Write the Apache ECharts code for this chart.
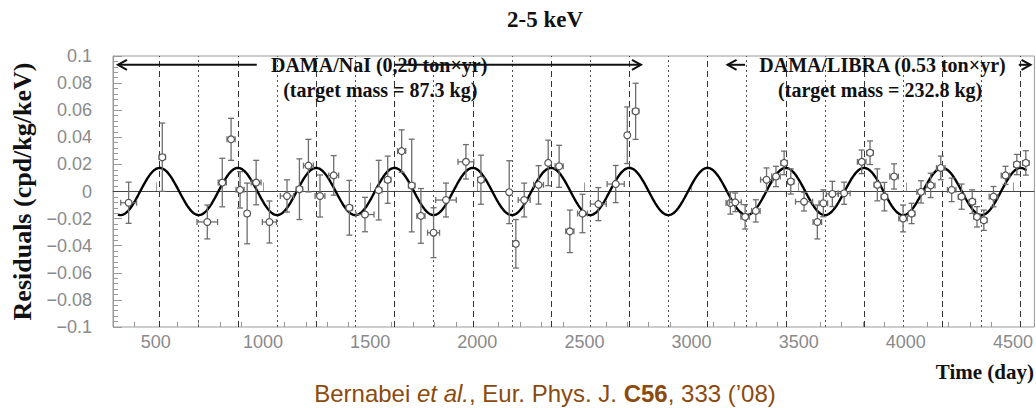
<!DOCTYPE html>
<html><head><meta charset="utf-8">
<script src="https://cdn.jsdelivr.net/npm/echarts@6/dist/echarts.min.js"></script>
<style>html,body{margin:0;padding:0;background:#fff}#c{width:1036px;height:408px}</style>
</head><body><div id="c"></div>
<script>
// ---- data ----
const naiDay = [373,530,740,810,851,893,926,968,1030,1112,1170,1212,1266,1330,1403,1476,1540,1582,1647,1694,1737,1796,1854,1947,2017,2149,2180,2219,2286,2331,2382,2432,2491,2565,2646,2700,2739];
const naiRes = [-0.0083,0.0253,-0.0225,0.0066,0.0385,0.0012,-0.0162,0.0066,-0.0225,-0.0033,0.0017,0.0191,-0.0033,0.0119,-0.012,-0.017,0.001,0.0087,0.0298,0.0044,-0.018,-0.0304,-0.0063,0.0219,0.0087,-0.0005,-0.0386,-0.0063,0.0049,0.0211,0.0186,-0.0294,-0.0162,-0.0093,0.0055,0.0415,0.0592];
const naiErr = [0.0152,0.0252,0.0125,0.0179,0.0155,0.0134,0.0224,0.0164,0.0155,0.0119,0.0224,0.0194,0.0155,0.0146,0.0202,0.0127,0.022,0.0174,0.0157,0.0342,0.0202,0.0184,0.0125,0.0127,0.0181,0.0232,0.0179,0.0125,0.0142,0.0168,0.0155,0.0157,0.0142,0.0122,0.0137,0.0209,0.0207];
const naiDayErr = [37,15,48,19,19,19,10,23,33,31,15,23,23,23,15,42,15,15,19,15,19,28,48,37,15,10,10,28,23,10,19,19,23,37,40,10,15];

const libraDay = [3181,3204,3250,3300,3350,3394,3432,3463,3525,3587,3615,3657,3712,3794,3833,3867,3900,3945,3987,4027,4071,4116,4163,4214,4260,4310,4332,4364,4409,4465,4518,4560];
const libraRes = [-0.0085,-0.008,-0.0187,-0.0143,0.0087,0.0111,0.0211,0.0074,-0.0075,-0.0225,-0.0087,-0.0018,-0.0013,0.0219,0.0286,0.0049,-0.0038,0.0111,-0.0199,-0.0162,-0.0003,0.0045,0.0174,0.0012,-0.0038,-0.0075,-0.0187,-0.0212,-0.0038,0.0119,0.0199,0.0211];
const libraErr = [0.0082,0.0069,0.009,0.0082,0.0087,0.0075,0.0087,0.0093,0.0069,0.0125,0.0099,0.0093,0.0082,0.0087,0.0087,0.0118,0.0105,0.0093,0.0099,0.0075,0.0082,0.009,0.0087,0.0087,0.0093,0.0087,0.0075,0.0075,0.0075,0.0067,0.0075,0.009];
const libraDayErr = [20,28,20,20,28,20,15,15,40,20,20,28,28,20,15,15,15,20,20,15,20,20,20,20,15,15,15,15,20,20,15,15];

// cosine fit A cos(2pi (t - t0)/T) as shown on the figure
const fitAmplitude = 0.0174;
const fitPeriod = 365.25;
const fitPhase = 152.5;
const fitRange = [323, 4566];

// June 2nd (maxima, dashed) and Dec 2nd (minima, dotted) reference lines
const peakDays = [518,883,1248,1614,1979,2344,2709,3075,3440,3805,4170,4536];
const troughDays = [700,1066,1431,1796,2161,2527,2892,3257,3622,3988,4353];

// axis ticks
const xMajorTicks = [500,1000,1500,2000,2500,3000,3500,4000,4500];
const xMinorTicks = [300,400,600,700,800,900,1100,1200,1300,1400,1600,1700,1800,1900,2100,2200,2300,2400,2600,2700,2800,2900,3100,3200,3300,3400,3600,3700,3800,3900,4100,4200,4300,4400,4600];

// ---- chart ----
const fitData = [];
for (let t = fitRange[0]; t <= fitRange[1]; t += 4) {
  fitData.push([t, fitAmplitude * Math.cos(2 * Math.PI * (t - fitPhase) / fitPeriod)]);
}

const errData = naiDay.map((d, i) => [d, naiRes[i], naiErr[i], naiDayErr[i]])
  .concat(libraDay.map((d, i) => [d, libraRes[i], libraErr[i], libraDayErr[i]]));

function errItem(params, api) {
  const x = api.value(0), y = api.value(1), ey = api.value(2), ex = api.value(3);
  const c = api.coord([x, y]);
  const top = api.coord([x, y + ey])[1], bot = api.coord([x, y - ey])[1];
  const l = api.coord([x - ex, y])[0], r = api.coord([x + ex, y])[0];
  const cap = 3, rad = 3.4;
  const st = { stroke: '#6e6e6e', lineWidth: 1.3, fill: null };
  const kids = [
    { type: 'line', shape: { x1: c[0], y1: top, x2: c[0], y2: bot }, style: st },
    { type: 'line', shape: { x1: c[0] - cap, y1: top, x2: c[0] + cap, y2: top }, style: st },
    { type: 'line', shape: { x1: c[0] - cap, y1: bot, x2: c[0] + cap, y2: bot }, style: st },
    { type: 'line', shape: { x1: l, y1: c[1], x2: r, y2: c[1] }, style: st },
    { type: 'line', shape: { x1: l, y1: c[1] - cap, x2: l, y2: c[1] + cap }, style: st },
    { type: 'line', shape: { x1: r, y1: c[1] - cap, x2: r, y2: c[1] + cap }, style: st },
    { type: 'circle', shape: { cx: c[0], cy: c[1], r: rad }, style: { fill: '#fff', stroke: '#555', lineWidth: 1.2 } }
  ];
  return { type: 'group', children: kids };
}

const annFont = 'bold 20px "Liberation Serif", "DejaVu Serif", serif';
function annItem(params, api) {
  const yA = 0.0935;
  const arrows = [[323, 971, 'l'], [1613, 2764, 'r'], [3168, 3250, 'l'], [4527, 4582, 'r']];
  const kids = [];
  const st = { stroke: '#111', lineWidth: 2, fill: null };
  arrows.forEach(a => {
    const p1 = api.coord([a[0], yA]), p2 = api.coord([a[1], yA]);
    kids.push({ type: 'line', shape: { x1: p1[0], y1: p1[1], x2: p2[0], y2: p2[1] }, style: st });
    const tip = a[2] === 'l' ? p1 : p2;
    const dir = a[2] === 'l' ? 1 : -1;
    kids.push({ type: 'polyline', shape: { points: [[tip[0] + dir * 9, tip[1] - 5], tip, [tip[0] + dir * 9, tip[1] + 5]] }, style: st });
  });
  const texts = [
    ['DAMA/NaI (0,29 ton×yr)', 1542, 0.0932],
    ['(target mass = 87.3 kg)', 1547, 0.0752],
    ['DAMA/LIBRA (0.53 ton×yr)', 3891, 0.0932],
    ['(target mass = 232.8 kg)', 3880, 0.0752]
  ];
  texts.forEach(t => {
    const p = api.coord([t[1], t[2]]);
    kids.push({ type: 'text', x: p[0], y: p[1], style: { text: t[0], font: annFont, fill: '#111', align: 'center', verticalAlign: 'middle' } });
  });
  return { type: 'group', children: kids };
}

const markItems = [{ yAxis: 0, lineStyle: { type: 'solid', color: '#444', width: 1 } }]
  .concat(peakDays.map(d => ({ xAxis: d, lineStyle: { type: [6, 4], color: '#333', width: 1 } })))
  .concat(troughDays.map(d => ({ xAxis: d, lineStyle: { type: [2, 3], color: '#555', width: 1 } })));

const axisGray = '#999';
const labelGray = '#8a8a8a';
const labelFont = '"Liberation Sans", Arial, sans-serif';
const option = {
  animation: false,
  backgroundColor: '#fff',
  grid: { left: 113, right: 1, top: 56, bottom: 81, show: true, borderColor: '#9a9a9a', borderWidth: 1 },
  xAxis: [
    {
      type: 'value', min: 300, max: 4600,
      axisLine: { show: true, lineStyle: { color: axisGray } },
      axisTick: { show: true, inside: true, length: 9, customValues: xMajorTicks, lineStyle: { color: axisGray } },
      axisLabel: { show: true, customValues: xMajorTicks, color: labelGray, fontSize: 18, margin: 6, fontFamily: labelFont, formatter: v => String(v) },
      splitLine: { show: false }
    },
    {
      type: 'value', min: 300, max: 4600, position: 'bottom',
      axisLine: { show: false },
      axisTick: { show: true, inside: true, length: 5, customValues: xMinorTicks, lineStyle: { color: axisGray } },
      axisLabel: { show: false },
      splitLine: { show: false }
    }
  ],
  yAxis: {
    type: 'value', min: -0.1, max: 0.1, interval: 0.02,
    name: 'Residuals (cpd/kg/keV)', nameLocation: 'middle', nameRotate: 90, nameGap: 76,
    nameTextStyle: { fontFamily: '"Liberation Serif", "DejaVu Serif", serif', fontWeight: 'bold', fontSize: 26, color: '#111' },
    axisLine: { show: true, lineStyle: { color: axisGray } },
    axisTick: { show: true, inside: true, length: 9, lineStyle: { color: axisGray } },
    minorTick: { show: true, splitNumber: 5, length: 5, lineStyle: { color: axisGray } },
    axisLabel: {
      color: labelGray, fontSize: 18, margin: 21, fontFamily: labelFont,
      formatter: v => String(+(+v).toFixed(3)).replace('-', '\u2212')
    },
    splitLine: { show: false }
  },
  graphic: [
    { type: 'text', x: 545, y: 19, style: { text: '2-5 keV', font: 'bold 23px "Liberation Serif", serif', fill: '#111', align: 'center', verticalAlign: 'middle' } },
    { type: 'text', x: 1034, y: 372, style: { text: 'Time (day)', font: 'bold 21px "Liberation Serif", serif', fill: '#111', align: 'right', verticalAlign: 'middle' } },
    { type: 'text', x: 545, y: 393, style: {
        text: '{n|Bernabei }{i|et al.}{n|, Eur. Phys. J. }{b|C56}{n|, 333 (\u201908)}',
        align: 'center', verticalAlign: 'middle',
        rich: {
          n: { font: '24px "Liberation Sans", Arial, sans-serif', fill: '#8b4a0e' },
          i: { font: 'italic 24px "Liberation Sans", Arial, sans-serif', fill: '#8b4a0e' },
          b: { font: 'bold 24px "Liberation Sans", Arial, sans-serif', fill: '#8b4a0e' }
        }
      } }
  ],
  series: [
    {
      type: 'line', name: 'fit', data: fitData, showSymbol: false, symbol: 'none', z: 3,
      lineStyle: { color: '#000', width: 2.4 },
      markLine: { silent: true, symbol: 'none', label: { show: false }, data: markItems, z: 1 }
    },
    {
      type: 'custom', name: 'residuals', data: errData, renderItem: errItem, z: 4,
      encode: { x: 0, y: 1 }
    },
    {
      type: 'custom', name: 'annotations', data: [[300, 0]], renderItem: annItem, z: 5, clip: false, silent: true
    }
  ]
};
const chart = echarts.init(document.getElementById('c'), null, { renderer: 'svg' });
chart.setOption(option);
</script>
</body></html>
